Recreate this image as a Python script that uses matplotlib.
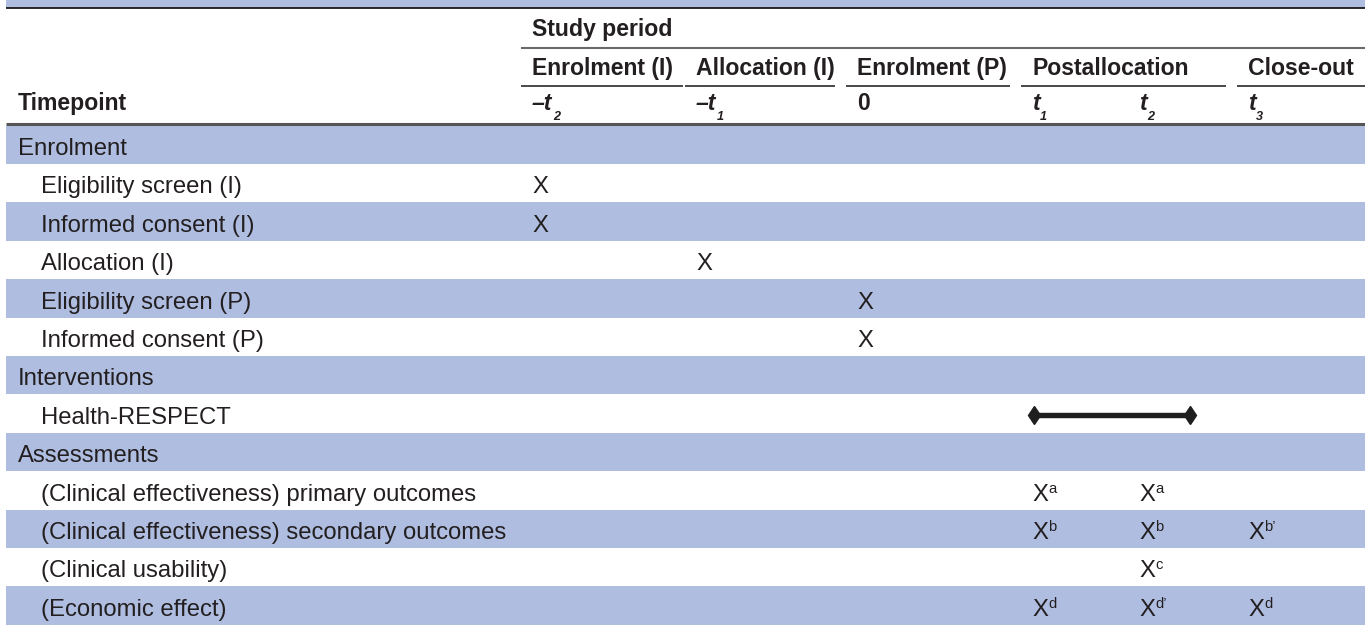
import matplotlib
matplotlib.use("Agg")
import matplotlib.pyplot as plt
from matplotlib.patches import Rectangle

# header content
period_title = "Study period"
groups = ["Enrolment (I)", "Allocation (I)", "Enrolment (P)", "Postallocation", "Close-out"]
group_span = [1, 1, 1, 2, 1]
timepoint_label = "Timepoint"
timepoint_main = ["–t", "–t", "0", "t", "t", "t"]
timepoint_sub = ["2", "1", "", "1", "2", "3"]

# body rows
row_labels = [
    "Enrolment",
    "Eligibility screen (I)",
    "Informed consent (I)",
    "Allocation (I)",
    "Eligibility screen (P)",
    "Informed consent (P)",
    "Interventions",
    "Health-RESPECT",
    "Assessments",
    "(Clinical effectiveness) primary outcomes",
    "(Clinical effectiveness) secondary outcomes",
    "(Clinical usability)",
    "(Economic effect)",
]
row_is_section = [True, False, False, False, False, False, True, False, True, False, False, False, False]

# cell marks: "" empty, "X" plain, "X^a" with superscript
marks = [
    ["", "", "", "", "", ""],
    ["X", "", "", "", "", ""],
    ["X", "", "", "", "", ""],
    ["", "X", "", "", "", ""],
    ["", "", "X", "", "", ""],
    ["", "", "X", "", "", ""],
    ["", "", "", "", "", ""],
    ["", "", "", "", "", ""],
    ["", "", "", "", "", ""],
    ["", "", "", "X^a", "X^a", ""],
    ["", "", "", "X^b", "X^b", "X^b\u2019"],
    ["", "", "", "", "X^c", ""],
    ["", "", "", "X^d", "X^d\u2019", "X^d"],
]
# intervention delivered over a span of timepoints
intervention_row = "Health-RESPECT"
intervention_cols = (3, 4)

# layout (pixels)
W, H = 1365, 625
col_left = [521, 685, 846, 1021, 1128, 1237]
pad = 11
row_top0 = 125.5
row_h = 38.4
band = "#AFBDE0"
ink = "#231F20"
fs_head = 16.6
fs_body = 17.2

fig = plt.figure(figsize=(W / 100, H / 100), dpi=100)
ax = fig.add_axes([0, 0, 1, 1])
ax.set_xlim(0, W)
ax.set_ylim(H, 0)
ax.axis("off")
renderer = fig.canvas.get_renderer()
font = "Liberation Sans"


def text_with_script(x, y, base, small, dy, size, weight="normal", style="normal", scale=0.6):
    t = ax.text(x, y, base, fontsize=size, family=font, weight=weight, style=style,
                color=ink, va="baseline", ha="left")
    if small:
        bb = t.get_window_extent(renderer)
        x1 = ax.transData.inverted().transform((bb.x1, bb.y0))[0]
        ax.text(x1 + 0.5, y + dy, small, fontsize=size * scale, family=font, weight=weight,
                style=style, color=ink, va="baseline", ha="left")


# top strip
ax.add_patch(Rectangle((6, 0), W - 6, 7.5, color=band, lw=0))
ax.plot([6, W], [8.3, 8.3], color="#1a1a1a", lw=1.3, solid_capstyle="butt")

# study period header
ax.text(col_left[0] + pad, 36, period_title, fontsize=fs_head, family=font, weight="bold",
        color=ink, va="baseline")
ax.plot([col_left[0], W], [47.5, 47.5], color="#6a6a6a", lw=1.5, solid_capstyle="butt")

# group headers with underlines
gaps = [2, 11, 11, 11, 0]
ci = 0
for g, span, gap in zip(groups, group_span, gaps):
    x0 = col_left[ci]
    nxt = ci + span
    x1 = (col_left[nxt] if nxt < len(col_left) else W) - gap
    ax.text(x0 + pad, 75, g, fontsize=fs_head, family=font, weight="bold", color=ink, va="baseline")
    ax.plot([x0, x1], [85.5, 85.5], color="#2a2a2a", lw=1.2, solid_capstyle="butt")
    ci = nxt

# timepoint row
ax.text(18, 110, timepoint_label, fontsize=fs_head, family=font, weight="bold", color=ink,
        va="baseline")
for i, (m, s) in enumerate(zip(timepoint_main, timepoint_sub)):
    style = "italic" if "t" in m else "normal"
    text_with_script(col_left[i] + pad, 110, m, s, 10.5, fs_head, weight="bold", style=style,
                     scale=0.55)
ax.plot([6, W], [124, 124], color="#555555", lw=2.2, solid_capstyle="butt")

# body
for r, label in enumerate(row_labels):
    top = row_top0 + r * row_h
    if r % 2 == 0:
        ax.add_patch(Rectangle((6, top), W - 6, row_h, color=band, lw=0))
    base_y = top + 29.5
    x_lab = 18 if row_is_section[r] else 41
    ax.text(x_lab, base_y, label, fontsize=fs_body, family=font, color=ink, va="baseline")
    for c, cell in enumerate(marks[r]):
        if not cell:
            continue
        main, _, sup = cell.partition("^")
        text_with_script(col_left[c] + pad, base_y, main, sup, -8, fs_body, scale=0.62)
    if label == intervention_row:
        c0, c1 = intervention_cols
        xa = col_left[c0] + pad + 2
        xb = (col_left[c1] + col_left[c1 + 1]) / 2 + 7
        yc = top + row_h / 2 + 1.5
        ax.plot([xa, xb], [yc, yc], color="#1e1e1e", lw=3.9, solid_capstyle="butt",
                marker="d", ms=9.5, markevery=[0, 1])

fig.savefig("out.png", dpi=100)
